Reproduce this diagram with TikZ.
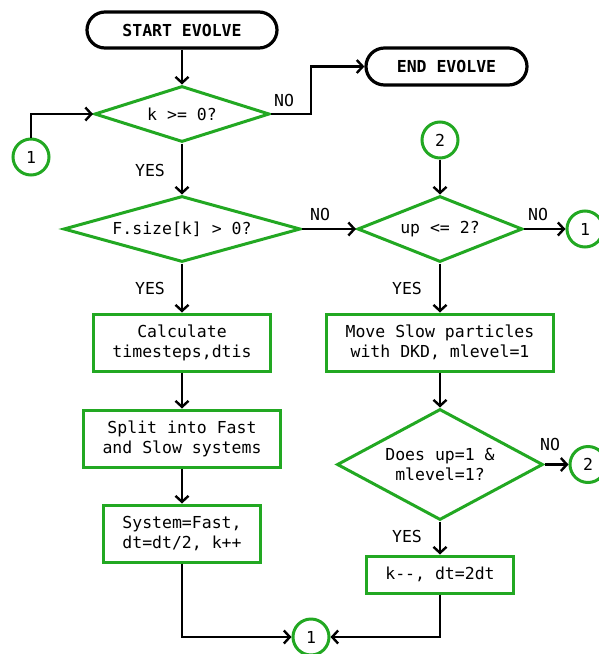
\documentclass[tikz,border=0pt]{standalone}
\usepackage{fontspec}
\setmainfont{DejaVu Sans Mono}
\usetikzlibrary{shapes.geometric,shapes.misc,arrows.meta}
\definecolor{flowgreen}{RGB}{34,168,34}
\begin{document}
\begin{tikzpicture}[x=1pt,y=-1pt,
  every node/.style={font=\fontsize{16.5}{20}\selectfont, align=center},
  terminal/.style={rounded rectangle, draw=black, line width=3.2pt, minimum width=190, minimum height=36, inner sep=0pt, font=\fontsize{16.5}{20}\selectfont\bfseries},
  decision/.style={diamond, draw=flowgreen, line width=3pt, inner sep=0pt},
  process/.style={rectangle, draw=flowgreen, line width=3pt, inner sep=0pt},
  connector/.style={circle, draw=flowgreen, line width=3pt, minimum size=36, inner sep=0pt},
  arr/.style={line width=2.4pt, -{Straight Barb[length=6pt,width=13pt,line width=2.4pt]}},
  lbl/.style={inner sep=0pt}]
\useasboundingbox (0,0) rectangle (598,654);

% terminals
\node[terminal] (start) at (182,30) {START EVOLVE};
\node[terminal, minimum width=161, minimum height=37] (endn) at (446.5,66.5) {END EVOLVE};

% decisions
\node[decision, minimum width=175, minimum height=56, aspect=3.1] (d1) at (182,114) {k >= 0?};
\node[decision, minimum width=237, minimum height=66, aspect=3.6] (d2) at (182,229) {F.size[k] > 0?};
\node[decision, minimum width=165, minimum height=66, aspect=2.5] (d3) at (440,229) {up <= 2?};
\node[decision, minimum width=206, minimum height=111, aspect=1.86] (d4) at (440,464.5) {Does up=1 \&\\mlevel=1?};

% processes
\node[process, minimum width=177, minimum height=57] (b1) at (182,342.5) {Calculate\\timesteps,dtis};
\node[process, minimum width=197, minimum height=57] (b2) at (182,438.5) {Split into Fast\\and Slow systems};
\node[process, minimum width=157, minimum height=57] (b3) at (182,533.5) {System=Fast,\\dt=dt/2, k++};
\node[process, minimum width=227, minimum height=57] (b4) at (440,342.5) {Move Slow particles\\with DKD, mlevel=1};
\node[process, minimum width=147, minimum height=37] (b5) at (440,574.5) {k-{}-, dt=2dt};

% off-page connectors
\node[connector] (c1a) at (31,157) {1};
\node[connector] (c2a) at (440,140) {2};
\node[connector] (c1c) at (585,229) {1};
\node[connector] (c2b) at (588,464.5) {2};
\node[connector] (c1b) at (311,637) {1};

% flow
\draw[arr] (start.south) -- (d1.north);
\draw[arr] (c1a.north) |- (d1.west);
\draw[arr] (d1.east) -- ++(40,0) |- (endn.west);
\draw[arr] (d1.south) -- (d2.north);
\draw[arr] (d2.east) -- (d3.west);
\draw[arr] (c2a.south) -- (d3.north);
\draw[arr] (d3.east) -- (c1c.west);
\draw[arr] (d2.south) -- (b1.north);
\draw[arr] (b1.south) -- (b2.north);
\draw[arr] (b2.south) -- (b3.north);
\draw[arr] (b3.south) |- (c1b.west);
\draw[arr] (d3.south) -- (b4.north);
\draw[arr] (b4.south) -- (d4.north);
\draw[arr] (d4.east) -- (c2b.west);
\draw[arr] (d4.south) -- (b5.north);
\draw[arr] (b5.south) |- (c1b.east);

% branch labels
\node[lbl] (n1) at (284,100) {NO};
\node[lbl] (y1) at (150,170) {YES};
\node[lbl] (n2) at (320,214) {NO};
\node[lbl] (n3) at (538,214) {NO};
\node[lbl] (y2) at (150,288) {YES};
\node[lbl] (y3) at (407,288) {YES};
\node[lbl] (n4) at (550,444) {NO};
\node[lbl] (y4) at (407,536) {YES};
\end{tikzpicture}
\end{document}
